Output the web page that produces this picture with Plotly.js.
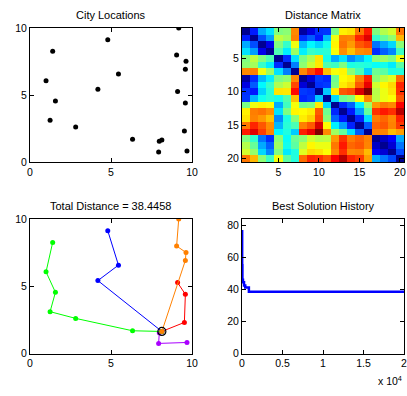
<!DOCTYPE html>
<html><head><meta charset="utf-8">
<script src="https://cdn.plot.ly/plotly-3.0.1.min.js"></script>
<style>html,body{margin:0;padding:0;background:#fff;}#chart{width:407px;height:396px;}</style>
</head><body><div id="chart"></div>
<script>
// City coordinates (city 1 is the depot)
const cityX = [8.14, 9.53, 9.59, 9.11, 4.19, 5.46, 4.80, 7.98, 7.94, 9.69, 6.33, 2.82, 1.24, 1.57, 0.99, 1.40, 9.59, 9.63, 9.05, 9.18];
const cityY = [1.64, 2.31, 4.40, 5.27, 5.42, 6.57, 9.13, 1.54, 0.75, 0.82, 1.69, 2.61, 3.11, 4.55, 6.07, 8.26, 6.92, 7.51, 7.99, 10.00];
const cityIndex = [1,2,3,4,5,6,7,8,9,10,11,12,13,14,15,16,17,18,19,20];

// Routes of the salesmen (each starts at city 1)
const routes = [[1,2,3,4],[1,5,6,7],[1,8,9,10],[1,11,12,13,14,15,16],[1,17,18,19,20]];
const routeColors = ['#ff0000','#0000ff','#aa00ff','#00ff00','#ff8000'];

// Distance matrix (20 x 20)
const distMatrix = [
[0,1.54,3.12,3.76,5.47,5.61,8.20,0.19,0.91,1.75,1.81,5.41,7.05,7.19,8.41,9.45,5.48,6.06,6.41,8.42],
[1.54,0,2.09,2.99,6.18,5.89,8.30,1.73,2.23,1.50,3.26,6.72,8.33,8.27,9.33,10.07,4.61,5.20,5.70,7.70],
[3.12,2.09,0,0.99,5.50,4.67,6.73,3.28,4.01,3.58,4.24,7.00,8.45,8.02,8.76,9.05,2.52,3.11,3.63,5.61],
[3.76,2.99,0.99,0,4.92,3.87,5.79,3.90,4.67,4.49,4.53,6.83,8.16,7.57,8.16,8.27,1.72,2.30,2.72,4.73],
[5.47,6.18,5.50,4.92,0,1.71,3.76,5.42,5.99,7.17,4.30,3.13,3.75,2.76,3.27,3.98,5.60,5.83,5.50,6.77],
[5.61,5.89,4.67,3.87,1.71,0,2.64,5.63,6.33,7.14,4.96,4.76,5.46,4.38,4.50,4.40,4.14,4.27,3.86,5.06],
[8.20,8.30,6.73,5.79,3.76,2.64,0,8.23,8.95,9.64,7.60,6.81,6.99,5.60,4.89,3.51,5.27,5.09,4.40,4.47],
[0.19,1.73,3.28,3.90,5.42,5.63,8.23,0,0.79,1.86,1.66,5.27,6.92,7.08,8.33,9.41,5.62,6.19,6.54,8.54],
[0.91,2.23,4.01,4.67,5.99,6.33,8.95,0.79,0,1.75,1.86,5.45,7.10,7.42,8.75,9.96,6.39,6.97,7.32,9.33],
[1.75,1.50,3.58,4.49,7.17,7.14,9.64,1.86,1.75,0,3.47,7.10,8.75,8.94,10.16,11.14,6.10,6.69,7.20,9.19],
[1.81,3.26,4.24,4.53,4.30,4.96,7.60,1.66,1.86,3.47,0,3.63,5.28,5.55,6.91,8.21,6.16,6.69,6.86,8.79],
[5.41,6.72,7.00,6.83,3.13,4.76,6.81,5.27,5.45,7.10,3.63,0,1.66,2.31,3.91,5.83,8.03,8.39,8.23,9.75],
[7.05,8.33,8.45,8.16,3.75,5.46,6.99,6.92,7.10,8.75,5.28,1.66,0,1.48,2.97,5.15,9.18,9.47,9.21,10.51],
[7.19,8.27,8.02,7.57,2.76,4.38,5.60,7.08,7.42,8.94,5.55,2.31,1.48,0,1.63,3.71,8.36,8.59,8.23,9.36],
[8.41,9.33,8.76,8.16,3.27,4.50,4.89,8.33,8.75,10.16,6.91,3.91,2.97,1.63,0,2.23,8.64,8.76,8.29,9.08],
[9.45,10.07,9.05,8.27,3.98,4.40,3.51,9.41,9.96,11.14,8.21,5.83,5.15,3.71,2.23,0,8.30,8.26,7.65,7.97],
[5.48,4.61,2.52,1.72,5.60,4.14,5.27,5.62,6.39,6.10,6.16,8.03,9.18,8.36,8.64,8.30,0,0.59,1.20,3.11],
[6.06,5.20,3.11,2.30,5.83,4.27,5.09,6.19,6.97,6.69,6.69,8.39,9.47,8.59,8.76,8.26,0.59,0,0.75,2.53],
[6.41,5.70,3.63,2.72,5.50,3.86,4.40,6.54,7.32,7.20,6.86,8.23,9.21,8.23,8.29,7.65,1.20,0.75,0,2.01],
[8.42,7.70,5.61,4.73,6.77,5.06,4.47,8.54,9.33,9.19,8.79,9.75,10.51,9.36,9.08,7.97,3.11,2.53,2.01,0]
];
const matrixTicks = [5,10,15,20];

// Best solution history (iteration where best distance changed)
const histIter = [1, 20, 50, 120, 250, 400, 850, 20000];
const histDist = [76.2, 55.0, 46.0, 44.4, 42.3, 41.1, 38.4458, 38.4458];
const histTickVals = [0, 5000, 10000, 15000, 20000];
const histTickText = ['0', '0.5', '1', '1.5', '2'];
const totalDistance = 38.4458;

const FONT = 'Liberation Sans, Arial, Helvetica, sans-serif';
const W = 407, H = 396;
function dx(a, b) { return [a / W, b / W]; }
function dy(top, bottom) { return [1 - bottom / H, 1 - top / H]; }

const baseAxis = {
  showline: true, linecolor: '#000', linewidth: 1, mirror: 'allticks',
  ticks: 'inside', ticklen: 4, tickcolor: '#000', tickwidth: 1,
  showgrid: false, zeroline: false, fixedrange: true, ticklabeloverflow: 'allow',
  tickfont: {family: FONT, size: 10.5, color: '#000'}
};
function ax(extra) { return Object.assign({}, baseAxis, extra); }

const traces = [];
// City Locations
traces.push({
  type: 'scatter', mode: 'markers', x: cityX, y: cityY, xaxis: 'x', yaxis: 'y',
  marker: {color: '#000', size: 5}, hoverinfo: 'skip'
});
// Distance matrix
traces.push({
  type: 'heatmap', z: distMatrix, x: cityIndex, y: cityIndex, xaxis: 'x2', yaxis: 'y2',
  zmin: 0, zmax: 11.14, showscale: false, hoverinfo: 'skip',
  colorscale: [[0,'#000090'],[0.111,'#0000ff'],[0.365,'#00ffff'],[0.619,'#ffff00'],[0.873,'#ff0000'],[1,'#800000']]
});
// Routes
routes.forEach(function (r, k) {
  traces.push({
    type: 'scatter', mode: 'lines+markers', xaxis: 'x3', yaxis: 'y3',
    x: r.map(function (i) { return cityX[i - 1]; }),
    y: r.map(function (i) { return cityY[i - 1]; }),
    line: {color: routeColors[k], width: 1},
    marker: {color: routeColors[k], size: 5}, hoverinfo: 'skip'
  });
});
// Depot
traces.push({
  type: 'scatter', mode: 'markers', x: [cityX[0]], y: [cityY[0]], xaxis: 'x3', yaxis: 'y3',
  marker: {symbol: 'circle-open', color: '#000', size: 8, line: {width: 1.2, color: '#000'}}, hoverinfo: 'skip'
});
// History
traces.push({
  type: 'scatter', mode: 'lines', x: histIter, y: histDist, xaxis: 'x4', yaxis: 'y4',
  line: {color: '#0000ff', width: 2.5, shape: 'hv'}, hoverinfo: 'skip'
});

function title(text, xc, yc) {
  return {text: text, xref: 'paper', yref: 'paper', x: xc / W, y: 1 - yc / H,
    xanchor: 'center', yanchor: 'middle', showarrow: false,
    font: {family: FONT, size: 11, color: '#000'}};
}

const layout = {
  width: W, height: H, margin: {l: 0, r: 0, t: 0, b: 0},
  paper_bgcolor: '#fff', plot_bgcolor: '#fff', showlegend: false,
  xaxis: ax({domain: dx(30, 192), range: [0, 10], tickvals: [0, 5, 10], anchor: 'y'}),
  yaxis: ax({domain: dy(28, 162), range: [0, 10], tickvals: [0, 5, 10], anchor: 'x'}),
  xaxis2: ax({domain: dx(242, 404), range: [0.5, 20.5], tickvals: matrixTicks, anchor: 'y2'}),
  yaxis2: ax({domain: dy(28, 162), range: [20.5, 0.5], tickvals: matrixTicks, anchor: 'x2'}),
  xaxis3: ax({domain: dx(30, 192), range: [0, 10], tickvals: [0, 5, 10], anchor: 'y3'}),
  yaxis3: ax({domain: dy(219, 353.5), range: [0, 10], tickvals: [0, 5, 10], anchor: 'x3'}),
  xaxis4: ax({domain: dx(242, 404), range: [0, 20001], tickvals: histTickVals, ticktext: histTickText, anchor: 'y4'}),
  yaxis4: ax({domain: dy(219, 353.5), range: [0, 1.1 * histDist[0]], tickvals: [0, 20, 40, 60, 80], anchor: 'x4'}),
  annotations: [
    title('City Locations', 111, 14.5),
    title('Distance Matrix', 323, 14.5),
    title('Total Distance = ' + totalDistance.toFixed(4), 111, 206),
    title('Best Solution History', 323, 206),
    {text: 'x 10<sup>4</sup>', xref: 'paper', yref: 'paper', x: 404 / W, y: 1 - 380 / H,
     xanchor: 'right', yanchor: 'middle', showarrow: false,
     font: {family: FONT, size: 10.5, color: '#000'}}
  ]
};

Plotly.newPlot('chart', traces, layout, {staticPlot: true, displayModeBar: false});
</script>
</body></html>
